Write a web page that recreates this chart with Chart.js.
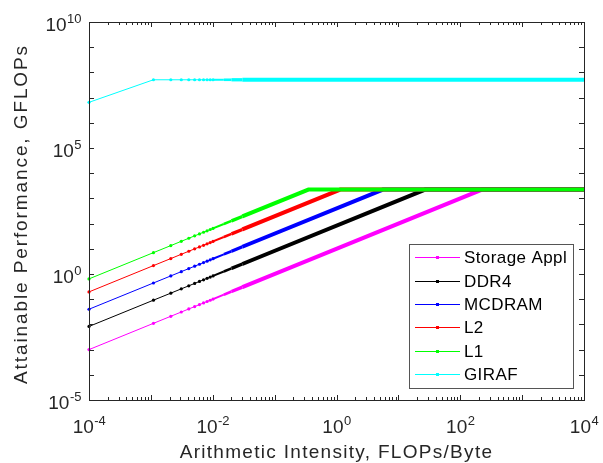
<!DOCTYPE html>
<html>
<head>
<meta charset="utf-8">
<title>Roofline</title>
<script src="https://cdn.jsdelivr.net/npm/chart.js@4.4.1/dist/chart.umd.min.js"></script>
<style>
  html, body { margin: 0; padding: 0; background: #fff; }
  canvas { display: block; }
</style>
</head>
<body>
<canvas id="roofline" width="603" height="463"></canvas>
<script>
// --- Data ---
const seriesNames = ['Storage Appl', 'DDR4', 'MCDRAM', 'L2', 'L1', 'GIRAF'];
const seriesColors = ['#ff00ff', '#000000', '#0000ff', '#ff0000', '#00ff00', '#00ffff'];

// sampled arithmetic intensities (markers are apart up to ~1e-2, then merge)
const aiSamples = [0.0001, 0.0011, 0.0021, 0.0031, 0.0041, 0.0051, 0.0061, 0.0071, 0.0081, 0.0091, 0.0101, 0.0151, 0.0201, 0.0301];
const aiMax = 10000;

// attainable GFLOPs at aiSamples
const storageY = [0.001, 0.011, 0.021, 0.031, 0.041, 0.051, 0.061, 0.071, 0.081, 0.091, 0.101, 0.151, 0.201, 0.301];
const ddr4Y    = [0.0083, 0.0913, 0.174, 0.257, 0.340, 0.423, 0.506, 0.589, 0.672, 0.755, 0.838, 1.253, 1.668, 2.498];
const mcdramY  = [0.04, 0.44, 0.84, 1.24, 1.64, 2.04, 2.44, 2.84, 3.24, 3.64, 4.04, 6.04, 8.04, 12.04];
const l2Y      = [0.195, 2.15, 4.10, 6.05, 8.00, 9.95, 11.9, 13.8, 15.8, 17.7, 19.7, 29.4, 39.2, 58.7];
const l1Y      = [0.64, 7.04, 13.4, 19.8, 26.2, 32.6, 39.0, 45.4, 51.8, 58.2, 64.6, 96.6, 128.6, 192.6];
const girafY   = [6.5e6, 5.1e7, 5.1e7, 5.1e7, 5.1e7, 5.1e7, 5.1e7, 5.1e7, 5.1e7, 5.1e7, 5.1e7, 5.1e7, 5.1e7, 5.1e7];

// ridge point (intensity where the roof starts) and roof height
const ridgeAI = [225, 27.1, 5.63, 1.15, 0.352, null];
const peakGflops = [2250, 2250, 2250, 2250, 2250, 5.1e7];

// axis ticks
const xTickExps = [-4, -3, -2, -1, 0, 1, 2, 3, 4];
const xLabelExps = [-4, -2, 0, 2, 4];
const yTickExps = [-5, -4, -3, -2, -1, 0, 1, 2, 3, 4, 5, 6, 7, 8, 9, 10];
const yLabelExps = [-5, 0, 5, 10];

const xTitle = 'Arithmetic Intensity, FLOPs/Byte';
const yTitle = 'Attainable Performance, GFLOPs';

const FONT = '"Liberation Sans", Arial, sans-serif';
const AXIS_COLOR = '#262626';

// --- Build datasets ---
const seriesY = [storageY, ddr4Y, mcdramY, l2Y, l1Y, girafY];

function buildPoints(i) {
  const pts = aiSamples.map((x, k) => ({ x: x, y: seriesY[i][k] }));
  if (ridgeAI[i] !== null) pts.push({ x: ridgeAI[i], y: peakGflops[i] });
  pts.push({ x: aiMax, y: peakGflops[i] });
  return pts;
}

// markers merge into a band that gets thicker as they get denser
const DENSE_FROM = 0.0101;
function bandWidth(x0) {
  if (x0 < 0.0100) return 1;
  if (x0 < 0.0150) return 2;
  if (x0 < 0.0200) return 2.6;
  if (x0 < 0.0300) return 3.3;
  return 4;
}

const datasets = seriesNames.map((name, i) => ({
  label: name,
  data: buildPoints(i),
  showLine: true,
  borderColor: seriesColors[i],
  backgroundColor: seriesColors[i],
  borderWidth: 1,
  pointRadius: ctx => (ctx.raw && ctx.raw.x <= DENSE_FROM ? 1.6 : 0),
  pointHoverRadius: 0,
  pointBorderWidth: 0,
  clip: false,
  segment: {
    borderWidth: ctx => bandWidth(ctx.p0.parsed.x)
  }
})).reverse(); // first dataset is drawn on top in Chart.js

// --- Helpers for MATLAB style axes ---
function drawPow(ctx, exp, x, y, align) {
  const base = '10';
  const sup = String(exp);
  ctx.font = '19px ' + FONT;
  const w1 = ctx.measureText(base).width;
  ctx.font = '13px ' + FONT;
  const w2 = ctx.measureText(sup).width;
  let left = x;
  if (align === 'center') left = x - (w1 + w2) / 2;
  if (align === 'right') left = x - (w1 + w2);
  ctx.textAlign = 'left';
  ctx.textBaseline = 'alphabetic';
  ctx.font = '19px ' + FONT;
  ctx.fillText(base, left, y);
  ctx.font = '13px ' + FONT;
  ctx.fillText(sup, left + w1 + 0.5, y - 8);
}

const axesPlugin = {
  id: 'matlabAxes',
  afterDatasetsDraw(chart) {
    const { ctx, chartArea: a, scales: { x, y } } = chart;
    ctx.save();
    ctx.strokeStyle = AXIS_COLOR;
    ctx.lineWidth = 1;

    // box
    ctx.strokeRect(Math.round(a.left) + 0.5, Math.round(a.top) + 0.5,
      Math.round(a.right - a.left), Math.round(a.bottom - a.top));

    ctx.beginPath();
    // x ticks (major every decade, minor 2..9), inward, bottom and top
    xTickExps.forEach(e => {
      for (let m = 1; m <= 9; m++) {
        const v = m * Math.pow(10, e);
        if (v > aiMax) break;
        const px = Math.round(x.getPixelForValue(v)) + 0.5;
        const len = m === 1 ? 5 : 3;
        ctx.moveTo(px, a.bottom); ctx.lineTo(px, a.bottom - len);
        ctx.moveTo(px, a.top); ctx.lineTo(px, a.top + len);
      }
    });
    // y ticks every decade, left and right
    yTickExps.forEach(e => {
      const py = Math.round(y.getPixelForValue(Math.pow(10, e))) + 0.5;
      ctx.moveTo(a.left, py); ctx.lineTo(a.left + 5, py);
      ctx.moveTo(a.right, py); ctx.lineTo(a.right - 5, py);
    });
    ctx.stroke();

    // tick labels
    ctx.fillStyle = AXIS_COLOR;
    xLabelExps.forEach(e => drawPow(ctx, e, x.getPixelForValue(Math.pow(10, e)), 433, 'center'));
    yLabelExps.forEach(e => drawPow(ctx, e, 81, y.getPixelForValue(Math.pow(10, e)) + 9, 'right'));

    // axis titles
    ctx.font = '19px ' + FONT;
    ctx.textAlign = 'center';
    ctx.textBaseline = 'alphabetic';
    ctx.letterSpacing = '1.3px';
    ctx.fillText(xTitle, (a.left + a.right) / 2, 458);
    ctx.save();
    ctx.translate(27, 214);
    ctx.rotate(-Math.PI / 2);
    ctx.letterSpacing = '1.9px';
    ctx.fillText(yTitle, 0, 0);
    ctx.restore();
    ctx.letterSpacing = '0px';

    // --- Legend (bottom right, inside axes) ---
    const lx = 409.5, ly = 244.5, lw = 164, lh = 144;
    ctx.fillStyle = '#fff';
    ctx.fillRect(lx, ly, lw, lh);
    ctx.strokeStyle = '#555';
    ctx.strokeRect(lx, ly, lw, lh);
    ctx.font = '17px ' + FONT;
    ctx.letterSpacing = '0.4px';
    ctx.textAlign = 'left';
    ctx.textBaseline = 'middle';
    seriesNames.forEach((name, i) => {
      const ry = Math.round(257.3 + i * 23.3) + 0.5;
      ctx.strokeStyle = seriesColors[i];
      ctx.lineWidth = 1;
      ctx.beginPath();
      ctx.moveTo(415, ry); ctx.lineTo(460, ry);
      ctx.stroke();
      ctx.fillStyle = seriesColors[i];
      ctx.fillRect(436, ry - 1.5, 3, 3);
      ctx.fillStyle = '#000';
      ctx.fillText(name, 464, ry + 1);
    });
    ctx.letterSpacing = '0px';
    ctx.restore();
  }
};

// --- Chart ---
const rooflineChart = new Chart(document.getElementById('roofline').getContext('2d'), {
  type: 'scatter',
  data: { datasets },
  options: {
    responsive: false,
    animation: false,
    layout: { padding: { left: 89, top: 22, right: 19, bottom: 63 } },
    plugins: { legend: { display: false }, tooltip: { enabled: false } },
    scales: {
      x: { type: 'logarithmic', min: 1e-4, max: 1e4, display: false },
      y: { type: 'logarithmic', min: 1e-5, max: 1e10, display: false }
    }
  },
  plugins: [axesPlugin]
});
</script>
</body>
</html>
